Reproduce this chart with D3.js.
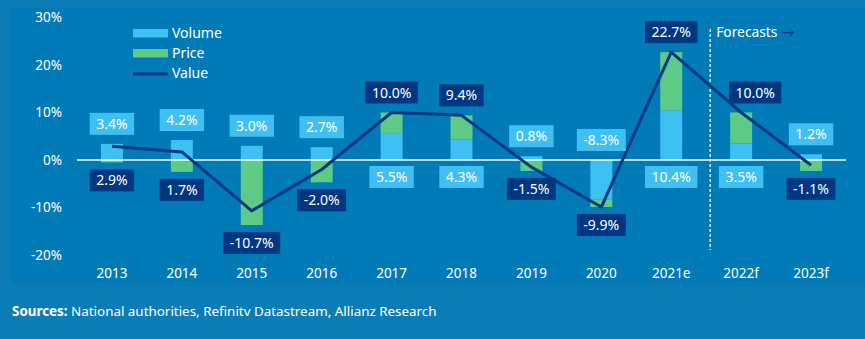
<!DOCTYPE html>
<html>
<head>
<meta charset="utf-8">
<script src="https://cdn.jsdelivr.net/npm/d3@7"></script>
<style>
  html, body { margin: 0; padding: 0; background: #0b7db4; }
  svg { display: block; font-family: "Noto Sans", Lato, sans-serif; }
</style>
</head>
<body>
<svg id="chart" width="865" height="339"></svg>
<script>
// volume / price contributions to value growth, % y/y
const years  = ["2013","2014","2015","2016","2017","2018","2019","2020","2021e","2022f","2023f"];
const volume = [3.4, 4.2, 3.0, 2.7, 5.5, 4.3, 0.8, -8.3, 10.4, 3.5, 1.2];
const price  = [-0.5, -2.5, -13.7, -4.7, 4.5, 5.1, -2.3, -1.6, 12.3, 6.5, -2.3];
const value  = [2.9, 1.7, -10.7, -2.0, 10.0, 9.4, -1.5, -9.9, 22.7, 10.0, -1.1];
const yTicks = [-20, -10, 0, 10, 20, 30];
const seriesNames = ["Volume", "Price", "Value"];
const firstForecast = "2022f";

const col = {
  panel: "#007bb8",
  volume: "#3fc0f2",
  price: "#5dcb86",
  value: "#003781",
  text: "#ffffff"
};

const chartDim = {left: 77, right: 846, top: 17.5, bottom: 255};
const fontFam = "'Noto Sans', Lato, sans-serif";
// nudge for value labels that would sit on top of the line
const valueLabelNudge = {"2022f": 14};

const svg = d3.select("#chart");

// inner panel
svg.append("rect")
  .attr("x", 11).attr("y", 8)
  .attr("width", 854).attr("height", 276)
  .attr("fill", col.panel);

const xScale = d3.scaleBand()
  .domain(years)
  .range([chartDim.left, chartDim.right])
  .paddingInner(0.686)
  .paddingOuter(0.343);

const yScale = d3.scaleLinear()
  .domain([-20, 30])
  .range([chartDim.bottom, chartDim.top]);

const cx = d => xScale(d) + xScale.bandwidth() / 2;

// y axis
svg.append("g")
  .attr("class", "y_axis")
  .attr("transform", `translate(${chartDim.left},0)`)
  .call(d3.axisLeft(yScale).tickValues(yTicks).tickSize(0).tickPadding(15).tickFormat(d => d + "%"))
  .call(g => g.select(".domain").remove())
  .selectAll("text")
    .attr("fill", col.text)
    .style("font-size", "13.5px")
    .style("font-family", fontFam);

// x axis
svg.append("g")
  .attr("class", "x_axis")
  .attr("transform", `translate(0,${chartDim.bottom})`)
  .call(d3.axisBottom(xScale).tickSize(0).tickPadding(13))
  .call(g => g.select(".domain").remove())
  .selectAll("text")
    .attr("fill", col.text)
    .style("font-size", "13.5px")
    .style("font-family", fontFam);

// stacked bars, negatives stacked downward from zero
const rows = years.map((y, i) => ({year: y, Volume: volume[i], Price: price[i]}));
const stack = d3.stack().keys(["Volume", "Price"]).offset(d3.stackOffsetDiverging)(rows);

svg.append("g").selectAll("g")
  .data(stack)
  .join("g")
    .attr("fill", d => d.key === "Volume" ? col.volume : col.price)
  .selectAll("rect")
  .data(d => d)
  .join("rect")
    .attr("class", "stackedBar")
    .attr("x", d => xScale(d.data.year))
    .attr("width", xScale.bandwidth())
    .attr("y", d => yScale(Math.max(d[0], d[1])))
    .attr("height", d => Math.abs(yScale(d[0]) - yScale(d[1])));

// zero line
svg.append("line")
  .attr("x1", chartDim.left).attr("x2", chartDim.right)
  .attr("y1", yScale(0)).attr("y2", yScale(0))
  .attr("stroke", "#ffffff").attr("stroke-width", 1.5);

// forecast divider
const divX = (cx("2021e") + cx(firstForecast)) / 2 + 4;
svg.append("line")
  .attr("x1", divX).attr("x2", divX)
  .attr("y1", 29).attr("y2", 250)
  .attr("stroke", "#ffffff").attr("stroke-width", 1.2)
  .attr("stroke-dasharray", "3,2");

const fc = svg.append("text")
  .attr("x", divX + 6).attr("y", 37)
  .style("font-size", "13.8px");
fc.append("tspan").attr("fill", col.text).text("Forecasts ");
fc.append("tspan").attr("fill", col.value).text("→");

// value line
svg.append("path")
  .datum(years.map((y, i) => [cx(y), yScale(value[i])]))
  .attr("fill", "none")
  .attr("stroke", col.value)
  .attr("stroke-width", 3)
  .attr("stroke-linejoin", "round")
  .attr("d", d3.line());

// label boxes
function labelBox(x, yc, txt, fill) {
  const g = svg.append("g");
  const rect = g.append("rect").attr("fill", fill);
  const t = g.append("text")
    .attr("x", x).attr("y", yc)
    .attr("text-anchor", "middle")
    .attr("dy", "0.36em")
    .attr("fill", col.text)
    .style("font-size", "14px")
    .text(txt);
  const w = t.node().getComputedTextLength() + 13;
  rect.attr("x", x - w / 2).attr("y", yc - 11).attr("width", w).attr("height", 22);
}

const fmt = v => v.toFixed(1) + "%";

years.forEach((y, i) => {
  const x = cx(y);
  const top = yScale(Math.max(0, volume[i]) + Math.max(0, price[i]));
  const bottom = yScale(Math.min(0, volume[i]) + Math.min(0, price[i]));
  const nudge = valueLabelNudge[y] || 0;
  if (price[i] >= 0) {
    labelBox(x, yScale(0) + 17, fmt(volume[i]), col.volume);
    labelBox(x + nudge, top - 20, fmt(value[i]), col.value);
  } else {
    labelBox(x, yScale(Math.max(0, volume[i])) - 20, fmt(volume[i]), col.volume);
    labelBox(x + nudge, bottom + 18, fmt(value[i]), col.value);
  }
});

// legend
const legend = svg.append("g").attr("transform", "translate(133,0)");
seriesNames.forEach((name, i) => {
  const yc = 33 + i * 20;
  if (name === "Value") {
    legend.append("line")
      .attr("x1", 0).attr("x2", 35).attr("y1", yc + 1).attr("y2", yc + 1)
      .attr("stroke", col.value).attr("stroke-width", 3);
  } else {
    legend.append("rect")
      .attr("x", 0).attr("y", yc - 4).attr("width", 35).attr("height", 8.5)
      .attr("fill", name === "Volume" ? col.volume : col.price);
  }
  legend.append("text")
    .attr("x", 39).attr("y", yc).attr("dy", "0.36em")
    .attr("fill", col.text)
    .style("font-size", "14px")
    .text(name);
});

// source note
const src = svg.append("text")
  .attr("x", 12).attr("y", 316)
  .attr("fill", col.text)
  .style("font-size", "13.4px");
src.append("tspan").style("font-weight", "bold").text("Sources: ");
src.append("tspan").text("National authorities, Refinitv Datastream, Allianz Research");
</script>
</body>
</html>
